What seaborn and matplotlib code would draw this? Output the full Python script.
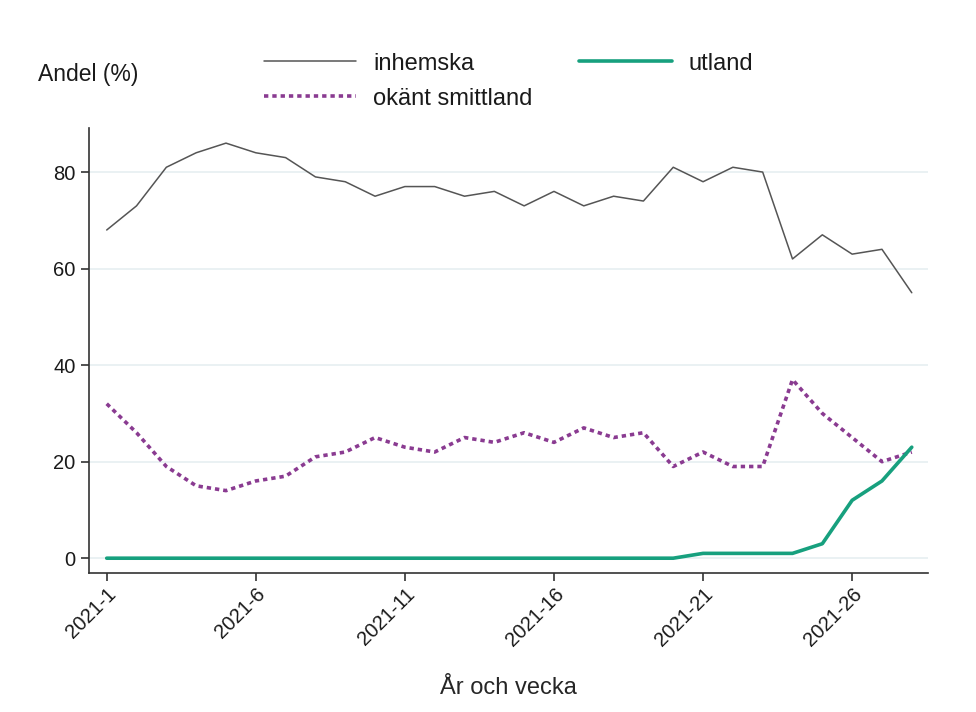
import matplotlib
matplotlib.use("Agg")
import matplotlib.pyplot as plt
import seaborn as sns
import pandas as pd

weeks = list(range(1, 29))
inhemska = [68, 73, 81, 84, 86, 84, 83, 79, 78, 75, 77, 77, 75, 76, 73, 76, 73, 75, 74, 81,
            78, 81, 80, 62, 67, 63, 64, 55]
okant = [32, 26, 19, 15, 14, 16, 17, 21, 22, 25, 23, 22, 25, 24, 26, 24, 27, 25, 26, 19,
         22, 19, 19, 37, 30, 25, 20, 22]
utland = [0, 0, 0, 0, 0, 0, 0, 0, 0, 0, 0, 0, 0, 0, 0, 0, 0, 0, 0, 0,
          1, 1, 1, 1, 3, 12, 16, 23]
tick_weeks = [1, 6, 11, 16, 21, 26]
tick_labels = [f"2021-{w}" for w in tick_weeks]

df = pd.DataFrame({"vecka": weeks, "inhemska": inhemska,
                   "okänt smittland": okant, "utland": utland})

sns.set_style("ticks")
plt.rcParams["font.family"] = ["Liberation Sans", "DejaVu Sans"]
plt.rcParams["text.color"] = "#1a1a1a"

fig = plt.figure(figsize=(9.76, 7.12), dpi=100)
ax = fig.add_axes([0.091, 0.195, 0.86, 0.625])

sns.lineplot(data=df, x="vecka", y="inhemska", ax=ax, color="#555555",
             linewidth=1.1, label="inhemska")
sns.lineplot(data=df, x="vecka", y="okänt smittland", ax=ax, color="#8a3b91",
             linewidth=2.6, linestyle=(0, (1.2, 1.1)), label="okänt smittland")
sns.lineplot(data=df, x="vecka", y="utland", ax=ax, color="#17a07e",
             linewidth=2.6, label="utland")

ax.set_xlim(0.4, 28.55)
ax.set_ylim(-3.1, 89.1)
ax.set_yticks([0, 20, 40, 60, 80])
ax.set_xticks(tick_weeks)
ax.set_xticklabels(tick_labels, rotation=45, ha="right", rotation_mode="anchor")
ax.tick_params(axis="both", labelsize=14.5, length=6, width=1.2, color="#333333",
               labelcolor="#1a1a1a")
ax.tick_params(axis="x", pad=2)
ax.yaxis.grid(True, color="#e6eff1", linewidth=1.2)
ax.set_axisbelow(True)
sns.despine(ax=ax)
for s in ["left", "bottom"]:
    ax.spines[s].set_color("#333333")
    ax.spines[s].set_linewidth(1.2)

ax.set_xlabel("År och vecka", fontsize=17, labelpad=20)
ax.set_ylabel("")

handles, labels = ax.get_legend_handles_labels()
ax.get_legend().remove()
fig.legend(handles, labels, ncol=2, loc="upper left", bbox_to_anchor=(0.249, 0.956),
           frameon=False, fontsize=17, handlelength=3.9, columnspacing=2.0,
           labelspacing=0.55, handletextpad=0.7)
fig.text(0.039, 0.895, "Andel (%)", fontsize=16.5, ha="left", va="center")

fig.savefig("out.png", dpi=100, facecolor="white")
